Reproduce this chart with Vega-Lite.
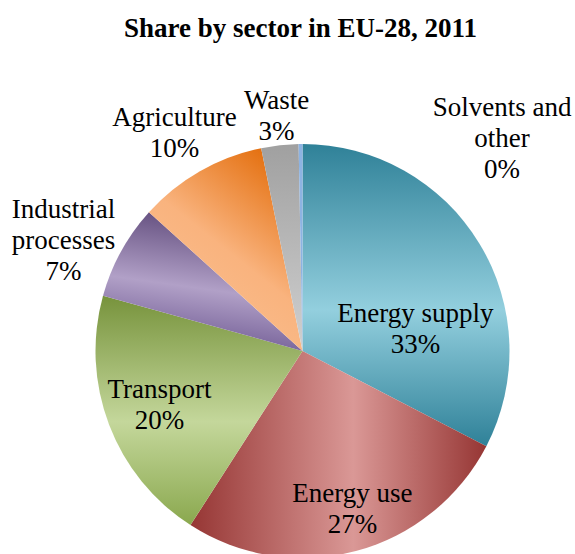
{
  "$schema": "https://vega.github.io/schema/vega-lite/v6.json",
  "autosize": "none",
  "width": 545,
  "height": 406,
  "padding": {"left": 30, "top": 148, "right": 0, "bottom": 0},
  "background": "white",
  "config": {"view": {"stroke": null}},
  "title": {
    "text": "Share by sector in EU-28, 2011",
    "font": "Liberation Serif",
    "fontSize": 27,
    "fontWeight": "bold",
    "color": "#000000",
    "anchor": "middle",
    "offset": -19,
    "dx": -2
  },
  "data": {
    "values": [
      {"ord": 1, "sector": "Energy supply", "value": 32.6, "label": "Energy supply\n33%"},
      {"ord": 2, "sector": "Energy use", "value": 26.5, "label": "Energy use\n27%"},
      {"ord": 3, "sector": "Transport", "value": 20.2, "label": "Transport\n20%"},
      {"ord": 4, "sector": "Industrial processes", "value": 7.4, "label": "Industrial\nprocesses\n7%"},
      {"ord": 5, "sector": "Agriculture", "value": 10.1, "label": "Agriculture\n10%"},
      {"ord": 6, "sector": "Waste", "value": 2.9, "label": "Waste\n3%"},
      {"ord": 7, "sector": "Solvents and other", "value": 0.3, "label": "Solvents and\nother\n0%"}
    ]
  },
  "transform": [
    {"stack": "value", "groupby": [], "sort": [{"field": "ord"}], "as": ["v0", "v1"]}
  ],
  "layer": [
    {
      "transform": [{"filter": "datum.sector === 'Energy supply'"}],
      "mark": {"type": "arc", "radius": 207, "fill": {"gradient": "linear", "x1": 0.5, "y1": 0, "x2": 0.5, "y2": 1, "stops": [{"offset": 0, "color": "#2F8198"}, {"offset": 0.55, "color": "#93CFDE"}, {"offset": 1, "color": "#2F8198"}]}},
      "encoding": {"theta": {"field": "v0", "type": "quantitative", "scale": {"domain": [0, 100]}}, "theta2": {"field": "v1"}}
    },
    {
      "transform": [{"filter": "datum.sector === 'Energy use'"}],
      "mark": {"type": "arc", "radius": 207, "fill": {"gradient": "linear", "x1": 0, "y1": 0.5, "x2": 1, "y2": 0.5, "stops": [{"offset": 0, "color": "#963634"}, {"offset": 0.55, "color": "#DA9896"}, {"offset": 1, "color": "#963634"}]}},
      "encoding": {"theta": {"field": "v0", "type": "quantitative", "scale": {"domain": [0, 100]}}, "theta2": {"field": "v1"}}
    },
    {
      "transform": [{"filter": "datum.sector === 'Transport'"}],
      "mark": {"type": "arc", "radius": 207, "fill": {"gradient": "linear", "x1": 0.5, "y1": 0, "x2": 0.5, "y2": 1, "stops": [{"offset": 0, "color": "#77933C"}, {"offset": 0.55, "color": "#C4D79B"}, {"offset": 1, "color": "#8AA84E"}]}},
      "encoding": {"theta": {"field": "v0", "type": "quantitative", "scale": {"domain": [0, 100]}}, "theta2": {"field": "v1"}}
    },
    {
      "transform": [{"filter": "datum.sector === 'Industrial processes'"}],
      "mark": {"type": "arc", "radius": 207, "fill": {"gradient": "linear", "x1": 0.6, "y1": 0, "x2": 0.4, "y2": 1, "stops": [{"offset": 0, "color": "#5C4778"}, {"offset": 0.55, "color": "#B1A0C7"}, {"offset": 1, "color": "#6B5690"}]}},
      "encoding": {"theta": {"field": "v0", "type": "quantitative", "scale": {"domain": [0, 100]}}, "theta2": {"field": "v1"}}
    },
    {
      "transform": [{"filter": "datum.sector === 'Agriculture'"}],
      "mark": {"type": "arc", "radius": 207, "fill": {"gradient": "linear", "x1": 0.8, "y1": 0, "x2": 0.2, "y2": 1, "stops": [{"offset": 0, "color": "#E36C09"}, {"offset": 0.5, "color": "#F9B37E"}, {"offset": 1, "color": "#FAC293"}]}},
      "encoding": {"theta": {"field": "v0", "type": "quantitative", "scale": {"domain": [0, 100]}}, "theta2": {"field": "v1"}}
    },
    {
      "transform": [{"filter": "datum.sector === 'Waste'"}],
      "mark": {"type": "arc", "radius": 207, "fill": {"gradient": "linear", "x1": 0.5, "y1": 0, "x2": 0.5, "y2": 1, "stops": [{"offset": 0, "color": "#A0A0A0"}, {"offset": 1, "color": "#D0D0D0"}]}},
      "encoding": {"theta": {"field": "v0", "type": "quantitative", "scale": {"domain": [0, 100]}}, "theta2": {"field": "v1"}}
    },
    {
      "transform": [{"filter": "datum.sector === 'Solvents and other'"}],
      "mark": {"type": "arc", "radius": 207, "fill": "#8DB3E2"},
      "encoding": {"theta": {"field": "v0", "type": "quantitative", "scale": {"domain": [0, 100]}}, "theta2": {"field": "v1"}}
    },
    {
      "mark": {"type": "text", "radius": 115, "thetaOffset": 0.358, "dy": -15.5, "font": "Liberation Serif", "fontSize": 27, "lineHeight": 31, "lineBreak": "\n", "align": "center", "baseline": "middle", "color": "#000000"},
      "encoding": {
        "theta": {"field": "value", "type": "quantitative", "stack": true},
        "order": {"field": "ord"},
        "text": {"condition": {"test": "datum.sector === 'Energy supply'", "field": "label", "type": "nominal"}, "value": ""}
      }
    },
    {
      "mark": {"type": "text", "radius": 166, "thetaOffset": -0.045, "dy": -15.5, "font": "Liberation Serif", "fontSize": 27, "lineHeight": 31, "lineBreak": "\n", "align": "center", "baseline": "middle", "color": "#000000"},
      "encoding": {
        "theta": {"field": "value", "type": "quantitative", "stack": true},
        "order": {"field": "ord"},
        "text": {"condition": {"test": "datum.sector === 'Energy use'", "field": "label", "type": "nominal"}, "value": ""}
      }
    },
    {
      "mark": {"type": "text", "radius": 153, "dy": -15.5, "font": "Liberation Serif", "fontSize": 27, "lineHeight": 31, "lineBreak": "\n", "align": "center", "baseline": "middle", "color": "#000000"},
      "encoding": {
        "theta": {"field": "value", "type": "quantitative", "stack": true},
        "order": {"field": "ord"},
        "text": {"condition": {"test": "datum.sector === 'Transport'", "field": "label", "type": "nominal"}, "value": ""}
      }
    },
    {
      "mark": {"type": "text", "radius": 263, "thetaOffset": -0.072, "dy": -31, "font": "Liberation Serif", "fontSize": 27, "lineHeight": 31, "lineBreak": "\n", "align": "center", "baseline": "middle", "color": "#000000"},
      "encoding": {
        "theta": {"field": "value", "type": "quantitative", "stack": true},
        "order": {"field": "ord"},
        "text": {"condition": {"test": "datum.sector === 'Industrial processes'", "field": "label", "type": "nominal"}, "value": ""}
      }
    },
    {
      "mark": {"type": "text", "radius": 252, "thetaOffset": -0.014, "dy": -15.5, "font": "Liberation Serif", "fontSize": 27, "lineHeight": 31, "lineBreak": "\n", "align": "center", "baseline": "middle", "color": "#000000"},
      "encoding": {
        "theta": {"field": "value", "type": "quantitative", "stack": true},
        "order": {"field": "ord"},
        "text": {"condition": {"test": "datum.sector === 'Agriculture'", "field": "label", "type": "nominal"}, "value": ""}
      }
    },
    {
      "mark": {"type": "text", "radius": 236, "dy": -15.5, "font": "Liberation Serif", "fontSize": 27, "lineHeight": 31, "lineBreak": "\n", "align": "center", "baseline": "middle", "color": "#000000"},
      "encoding": {
        "theta": {"field": "value", "type": "quantitative", "stack": true},
        "order": {"field": "ord"},
        "text": {"condition": {"test": "datum.sector === 'Waste'", "field": "label", "type": "nominal"}, "value": ""}
      }
    },
    {
      "mark": {"type": "text", "radius": 291, "thetaOffset": 0.765, "dy": -31, "font": "Liberation Serif", "fontSize": 27, "lineHeight": 31, "lineBreak": "\n", "align": "center", "baseline": "middle", "color": "#000000"},
      "encoding": {
        "theta": {"field": "value", "type": "quantitative", "stack": true},
        "order": {"field": "ord"},
        "text": {"condition": {"test": "datum.sector === 'Solvents and other'", "field": "label", "type": "nominal"}, "value": ""}
      }
    }
  ]
}
